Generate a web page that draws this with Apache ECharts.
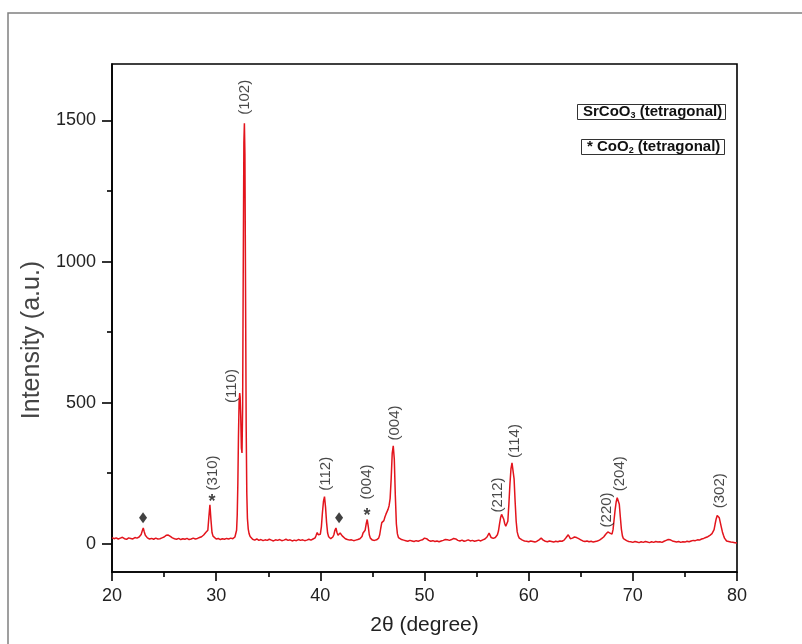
<!DOCTYPE html>
<html>
<head>
<meta charset="utf-8">
<script src="https://cdn.jsdelivr.net/npm/echarts@6/dist/echarts.min.js"></script>
<style>
html,body{margin:0;padding:0;background:#fff;}
#chart{width:802px;height:644px;}
</style>
</head>
<body>
<div id="chart"></div>
<script>
// XRD pattern: [2theta (degree), intensity (a.u.)]
const xrdPattern = [
[20.0,22],[20.2,18],[20.4,21],[20.6,17],[20.8,20],[21.0,23],[21.2,18],[21.4,16],[21.6,21],[21.8,19],[22.0,17],[22.2,22],[22.4,20],[22.6,24],
[22.7,27],[22.8,33],[22.9,45],[23.0,56],[23.1,42],[23.2,30],[23.3,24],[23.4,21],[23.6,17],[23.8,19],[24.0,16],[24.2,20],[24.4,17],[24.6,18],[24.8,21],
[25.0,24],[25.2,30],[25.4,31],[25.6,26],[25.8,21],[26.0,18],[26.2,16],[26.4,19],[26.6,15],[26.8,18],[27.0,16],[27.2,19],[27.4,15],[27.6,17],[27.8,20],
[28.0,17],[28.2,19],[28.4,22],[28.6,25],[28.8,31],[29.0,40],[29.1,36],[29.2,48],[29.3,95],[29.4,138],[29.5,85],[29.6,40],[29.7,27],[29.8,21],
[30.0,17],[30.2,19],[30.4,15],[30.6,18],[30.8,16],[31.0,19],[31.2,17],[31.4,20],[31.6,18],[31.8,24],[31.9,30],
[31.96,48],[32.02,100],[32.08,210],[32.14,380],[32.2,500],[32.26,534],[32.3,520],[32.36,450],[32.42,340],[32.48,322],[32.54,480],[32.6,980],
[32.66,1420],[32.71,1490],[32.76,1380],[32.82,900],[32.88,420],[32.94,180],[33.0,90],[33.08,52],[33.16,36],[33.26,26],[33.36,20],
[33.5,16],[33.7,13],[33.9,17],[34.1,12],[34.3,15],[34.5,11],[34.7,14],[34.9,12],[35.1,16],[35.3,13],[35.5,10],[35.7,14],[35.9,12],[36.1,15],
[36.3,11],[36.5,13],[36.7,16],[36.9,12],[37.1,14],[37.3,10],[37.5,13],[37.7,11],[37.9,15],[38.1,12],[38.3,14],[38.5,11],[38.7,13],[38.9,16],
[39.1,13],[39.3,17],[39.5,21],[39.6,30],[39.7,40],[39.8,32],[39.9,28],[40.0,34],[40.1,60],[40.2,110],[40.3,150],[40.4,167],[40.5,130],[40.6,75],
[40.7,38],[40.8,25],[40.9,20],[41.0,18],[41.1,20],[41.2,24],[41.3,32],[41.4,48],[41.5,56],[41.6,40],[41.7,30],[41.8,33],[41.9,38],[42.0,36],
[42.1,28],[42.2,22],[42.4,18],[42.6,15],[42.8,13],[43.0,14],[43.2,11],[43.4,13],[43.6,15],[43.8,18],[44.0,26],[44.1,38],[44.2,36],[44.3,48],
[44.4,70],[44.5,86],[44.6,62],[44.7,32],[44.8,20],[44.9,16],[45.0,13],[45.2,12],[45.4,14],[45.6,20],[45.7,32],[45.8,55],[45.9,75],[46.0,80],
[46.1,82],[46.2,95],[46.3,105],[46.4,110],[46.5,122],[46.6,135],[46.7,160],[46.8,230],[46.9,320],[47.0,347],[47.1,300],[47.2,170],[47.3,70],
[47.4,35],[47.5,22],[47.6,18],[47.8,15],[48.0,13],[48.2,11],[48.4,9],[48.6,12],[48.8,10],[49.0,8],[49.2,11],[49.4,9],[49.6,12],[49.8,14],
[50.0,20],[50.1,26],[50.2,18],[50.4,12],[50.6,9],[50.8,11],[51.0,8],[51.2,10],[51.4,7],[51.6,10],[51.8,12],[52.0,15],[52.1,21],[52.2,14],
[52.4,12],[52.6,15],[52.8,19],[52.9,23],[53.0,17],[53.2,12],[53.4,10],[53.6,13],[53.8,9],[54.0,11],[54.2,14],[54.4,10],[54.6,12],[54.8,9],
[55.0,11],[55.2,13],[55.4,10],[55.6,14],[55.8,17],[56.0,24],[56.2,38],[56.3,30],[56.4,22],[56.5,20],[56.6,19],[56.7,21],[56.8,22],[56.9,26],
[57.0,32],[57.1,45],[57.2,70],[57.3,92],[57.4,104],[57.5,106],[57.6,88],[57.7,72],[57.8,62],[57.9,60],[58.0,80],[58.1,140],[58.2,210],
[58.3,265],[58.4,287],[58.5,280],[58.6,230],[58.7,150],[58.8,80],[58.9,42],[59.0,28],[59.1,20],[59.2,16],[59.4,13],[59.6,10],
[59.8,9],[60.0,7],[60.2,10],[60.4,8],[60.6,6],[60.8,9],[61.0,14],[61.2,20],[61.4,13],[61.6,9],[61.8,7],[62.0,10],[62.2,8],[62.4,6],[62.6,9],
[62.8,7],[63.0,10],[63.2,9],[63.4,13],[63.6,22],[63.8,32],[63.9,25],[64.0,18],[64.2,20],[64.4,24],[64.6,22],[64.8,18],[65.0,14],[65.2,10],
[65.4,8],[65.6,10],[65.8,7],[66.0,9],[66.2,6],[66.4,8],[66.6,10],[66.8,13],[67.0,18],[67.2,24],[67.4,34],[67.6,42],[67.7,44],[67.8,38],
[67.9,32],[68.0,34],[68.1,50],[68.2,85],[68.3,120],[68.4,148],[68.5,163],[68.6,162],[68.7,140],[68.8,95],[68.9,52],[69.0,28],[69.1,18],
[69.2,14],[69.4,11],[69.6,8],[69.8,7],[70.0,5],[70.2,8],[70.4,6],[70.6,4],[70.8,7],[71.0,5],[71.2,8],[71.4,6],[71.6,4],[71.8,7],[72.0,5],
[72.2,8],[72.4,6],[72.6,7],[72.8,5],[73.0,9],[73.2,12],[73.4,15],[73.6,14],[73.8,10],[74.0,8],[74.2,6],[74.4,8],[74.6,5],[74.8,7],[75.0,6],
[75.2,9],[75.4,7],[75.6,10],[75.8,12],[76.0,11],[76.2,14],[76.4,13],[76.6,17],[76.8,19],[77.0,22],[77.2,25],[77.4,30],[77.6,36],[77.8,50],
[77.9,70],[78.0,88],[78.1,100],[78.2,103],[78.3,92],[78.4,75],[78.5,58],[78.6,42],[78.7,30],[78.8,20],[78.9,14],[79.0,10],[79.2,8],[79.4,6],
[79.6,5],[79.8,4],[80.0,3]
];

// Miller-index annotations (label text, 2theta, intensity at label centre)
const hklLabels = ['(102)','(110)','(310)','(112)','(004)','(004)','(212)','(114)','(220)','(204)','(302)'];
const hklTheta  = [32.76, 31.52, 29.69, 40.54, 44.47, 47.16, 57.04, 58.68, 67.5, 68.75, 78.35];
const hklY      = [1582, 559, 251, 248, 219, 428, 173, 364, 120, 248, 188];

// CoO2 marker stars (2theta, intensity)
const starTheta = [29.6, 44.47];
const starY     = [147, 97];

// Diamond markers (2theta, intensity)
const diamondTheta = [22.98, 41.8];
const diamondY     = [92, 92];

const yTicks = [0, 500, 1000, 1500];
const yMinorTicks = [250, 750, 1250];

const FONT = "'Liberation Sans', Arial, sans-serif";

const chart = echarts.init(document.getElementById('chart'));
chart.setOption({
  animation: false,
  backgroundColor: '#fff',
  textStyle: { fontFamily: FONT },
  grid: { left: 112, top: 64, width: 625, height: 508, show: true, borderColor: '#000', borderWidth: 1.6, backgroundColor: 'transparent' },
  xAxis: {
    type: 'value', min: 20, max: 80, interval: 10,
    name: '2θ (degree)', nameLocation: 'middle', nameGap: 43,
    nameTextStyle: { fontSize: 21, color: '#222', fontFamily: FONT },
    axisLine: { onZero: false, lineStyle: { color: '#000', width: 1.6 } },
    axisTick: { show: true, length: 9, inside: false, lineStyle: { color: '#000', width: 1.6 } },
    minorTick: { show: true, splitNumber: 2, length: 5, lineStyle: { color: '#000', width: 1.6 } },
    axisLabel: { fontSize: 18, color: '#222', margin: 15, fontFamily: FONT },
    splitLine: { show: false }
  },
  yAxis: [{
    type: 'value', min: -100, max: 1700,
    name: 'Intensity (a.u.)', nameLocation: 'middle', nameGap: 66, nameRotate: 90,
    nameTextStyle: { fontSize: 25, color: '#444', fontFamily: FONT, padding: [0, 44, 0, 0] },
    axisLine: { show: true, onZero: false, lineStyle: { color: '#000', width: 1.6 } },
    axisTick: { show: true, length: 10, customValues: yTicks, lineStyle: { color: '#000', width: 1.6 } },
    axisLabel: { fontSize: 18, color: '#222', margin: 16, customValues: yTicks, fontFamily: FONT, formatter: v => String(v) },
    splitLine: { show: false }
  }, {
    type: 'value', min: -100, max: 1700, position: 'left',
    axisLine: { show: false, onZero: false },
    axisTick: { show: true, length: 5, customValues: yMinorTicks, lineStyle: { color: '#000', width: 1.6 } },
    axisLabel: { show: false },
    splitLine: { show: false }
  }],
  title: [{
    left: 577, top: 103,
    text: '{b|SrCoO}{sub|3}{b| (tetragonal)}',
    borderColor: '#333', borderWidth: 1, padding: [0, 4, 0, 6],
    textStyle: {
      rich: {
        b: { fontSize: 15, fontWeight: 'bold', color: '#111', fontFamily: FONT, lineHeight: 17 },
        sub: { fontSize: 9, fontWeight: 'bold', color: '#111', fontFamily: FONT, verticalAlign: 'bottom', lineHeight: 17 }
      }
    }
  }, {
    left: 581, top: 139,
    text: '{n|* CoO}{sub|2}{b| (tetragonal)}',
    borderColor: '#333', borderWidth: 1, padding: [0, 4, 0, 6],
    textStyle: {
      rich: {
        n: { fontSize: 15, color: '#111', fontFamily: FONT, lineHeight: 16 },
        b: { fontSize: 15, fontWeight: 'bold', color: '#111', fontFamily: FONT, lineHeight: 16 },
        sub: { fontSize: 9, color: '#111', fontFamily: FONT, verticalAlign: 'bottom', lineHeight: 16 }
      }
    }
  }],
  graphic: [{
    type: 'rect', silent: true,
    shape: { x: 8, y: 13, width: 800, height: 640 },
    style: { fill: 'none', stroke: '#808080', lineWidth: 1.5 }
  }],
  series: [{
    type: 'line', name: 'XRD', data: xrdPattern, showSymbol: false, symbol: 'none',
    lineStyle: { color: '#e3141c', width: 1.5 }, itemStyle: { color: '#e3141c' }, z: 3
  }, {
    type: 'scatter', name: 'hkl', symbolSize: 0,
    data: hklLabels.map((t, i) => ({ value: [hklTheta[i], hklY[i]], name: t })),
    label: { show: true, position: 'inside', rotate: 90, formatter: p => p.name, fontSize: 15, color: '#1a1a1a', fontFamily: FONT },
    z: 5
  }, {
    type: 'scatter', name: 'star', symbolSize: 0,
    data: starTheta.map((t, i) => [t, starY[i]]),
    label: { show: true, position: 'inside', formatter: '*', fontSize: 18, fontWeight: 'bold', color: '#111', fontFamily: FONT },
    z: 5
  }, {
    type: 'scatter', name: 'diamond', symbol: 'diamond', symbolSize: [8, 11],
    data: diamondTheta.map((t, i) => [t, diamondY[i]]),
    itemStyle: { color: '#111' }, z: 5
  }]
});
</script>
</body>
</html>
